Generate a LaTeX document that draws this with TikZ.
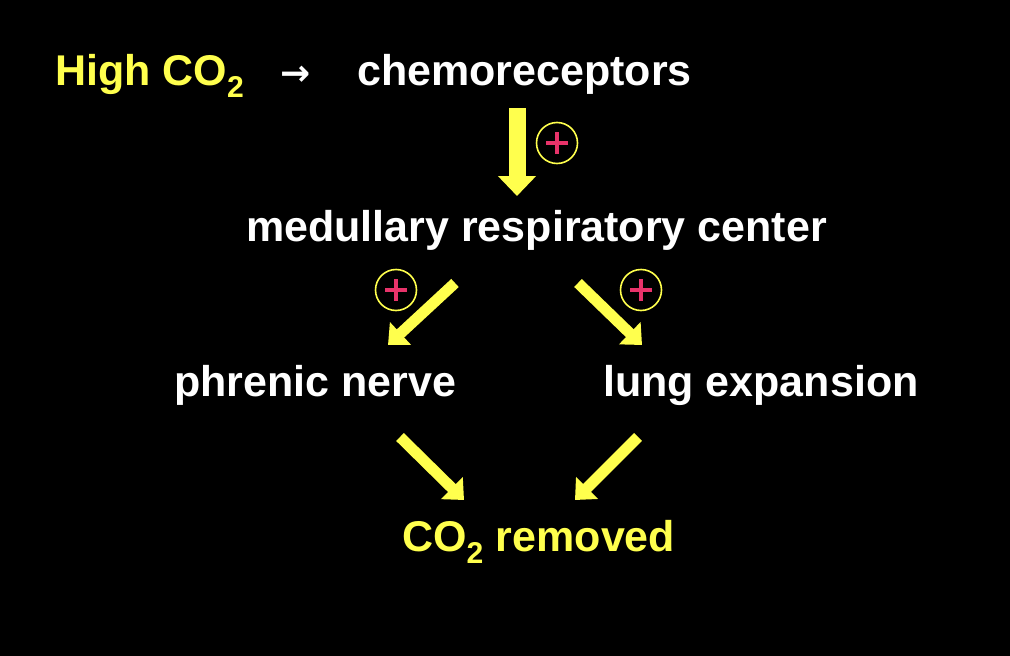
\documentclass[tikz,border=0pt]{standalone}
\usepackage{fontspec}
\setmainfont{Liberation Sans}
\newfontfamily\dv{DejaVu Sans}
\usetikzlibrary{arrows.meta}
\definecolor{yel}{HTML}{FFFF4D}
\definecolor{pk}{HTML}{E8336A}
\begin{document}
\begin{tikzpicture}[x=1pt,y=-1pt,
 txt/.style={font=\fontsize{43}{48}\selectfont\bfseries,inner sep=0pt,anchor=base west,white},
 big/.style={yel,line width=17pt,-{Triangle[width=37pt,length=20pt]}},
 diag/.style={yel,line width=11pt,-{Triangle[width=30pt,length=17pt]}},
 plus/.style={circle,draw=yel,line width=1.6pt,minimum size=41pt,inner sep=0pt,
   path picture={\draw[pk,line width=4pt] ([xshift=-11pt]path picture bounding box.center)--([xshift=11pt]path picture bounding box.center);
   \draw[pk,line width=4pt] ([yshift=-11pt]path picture bounding box.center)--([yshift=11pt]path picture bounding box.center);}}]
\fill[black] (0,0) rectangle (1010,656);
\node[txt,yel] (high) at (55,85) {High CO\textsubscript{2}};
\node[txt,font=\dv\bfseries\fontsize{36}{40}\selectfont] (arr) at (280,85) {→};
\node[txt] (chemo) at (357,85) {chemoreceptors};
\node[txt] (med) at (246,241) {medullary respiratory center};
\node[txt] (phr) at (174,396) {phrenic nerve};
\node[txt] (lung) at (603,396) {lung expansion};
\node[txt,yel] (rem) at (402,551) {CO\textsubscript{2} removed};
\coordinate (a1) at (517,108); \coordinate (a2) at (517,196);
\draw[big] (a1)--(a2);
\coordinate (b1) at (455,283); \coordinate (b2) at (388,345);
\coordinate (c1) at (578,283); \coordinate (c2) at (642,345);
\coordinate (d1) at (400,437); \coordinate (d2) at (464,500);
\coordinate (e1) at (638,437); \coordinate (e2) at (575,500);
\draw[diag] (b1)--(b2); \draw[diag] (c1)--(c2);
\draw[diag] (d1)--(d2); \draw[diag] (e1)--(e2);
\node[plus] (p1) at (557,143) {};
\node[plus] (p2) at (396,290) {};
\node[plus] (p3) at (641,290) {};
\end{tikzpicture}
\end{document}
